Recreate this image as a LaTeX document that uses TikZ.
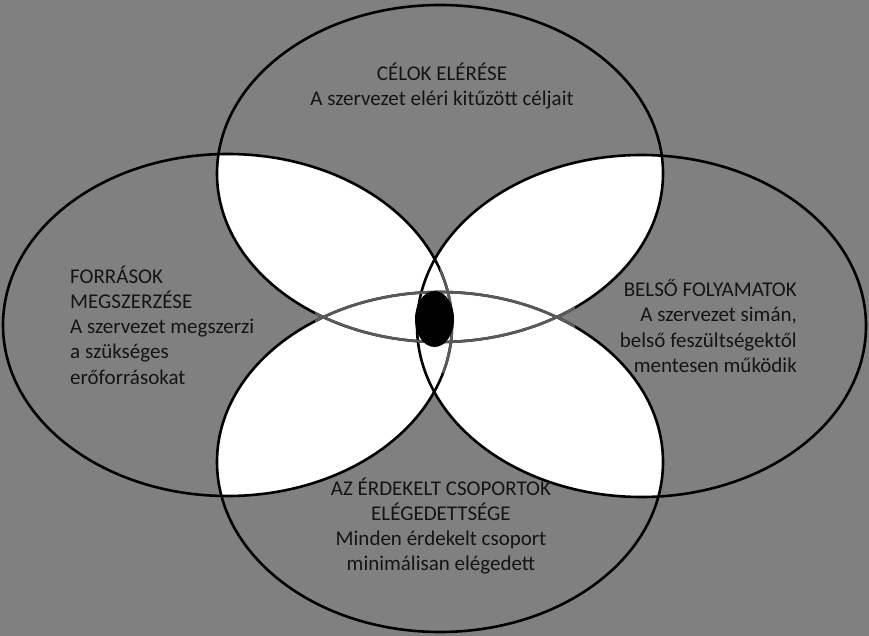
\documentclass[tikz,border=0pt]{standalone}
\usepackage{fontspec}
\setmainfont{Carlito}
\begin{document}
\begin{tikzpicture}[x=1pt,y=-1pt,
  outline/.style={draw=black,line width=2.6pt},
  inner/.style={draw={rgb,255:red,90;green,90;blue,90},line width=2.6pt},
  label/.style={inner sep=0pt,text=black!92,font=\fontsize{21}{25.3}\selectfont}]
\useasboundingbox (0,0) rectangle (869,636);
\fill[fill={rgb,255:red,128;green,128;blue,128}] (0,0) rectangle (869,636);
\def\Etop{(440,173.5) ellipse [x radius=223pt, y radius=168.5pt]}
\def\Ebot{(440,462) ellipse [x radius=223pt, y radius=170pt]}
\def\Eleft{(227.5,325) ellipse [x radius=224.5pt, y radius=171pt]}
\def\Eright{(641.5,326) ellipse [x radius=224.5pt, y radius=171pt]}
% white overlaps (covered by at least two circles)
\begin{scope}\clip \Etop; \fill[white] \Eleft; \fill[white] \Eright; \fill[white] \Ebot; \end{scope}
\begin{scope}\clip \Ebot; \fill[white] \Eleft; \fill[white] \Eright; \end{scope}
\begin{scope}\clip \Eleft; \fill[white] \Eright; \end{scope}
% outlines
\draw[outline] \Etop;
\draw[outline] \Ebot;
\draw[outline] \Eleft;
\draw[outline] \Eright;
% softer inner arcs in the centre band
\begin{scope}
\clip (315,262) rectangle (575,372);
\draw[inner] \Etop;
\draw[inner] \Ebot;
\end{scope}
\begin{scope}
\clip (440,262) rectangle (470,372);
\draw[inner] \Eleft;
\end{scope}
% centre
\fill[black] (434.5,319) ellipse [x radius=19.5pt, y radius=28pt];
% texts
\node[label,align=center] (ttop) at (442,86) {CÉLOK ELÉRÉSE\\A szervezet eléri kitűzött céljait};
\node[label,align=left,anchor=west] (tleft) at (70,325) {FORRÁSOK\\MEGSZERZÉSE\\A szervezet megszerzi\\a szükséges\\erőforrásokat};
\node[label,align=right,anchor=east] (tright) at (797,326) {BELSŐ FOLYAMATOK\\A szervezet simán,\\belső feszültségektől\\mentesen működik};
\node[label,align=center] (tbot) at (441,526) {AZ ÉRDEKELT CSOPORTOK\\ELÉGEDETTSÉGE\\Minden érdekelt csoport\\minimálisan elégedett};
\end{tikzpicture}
\end{document}
